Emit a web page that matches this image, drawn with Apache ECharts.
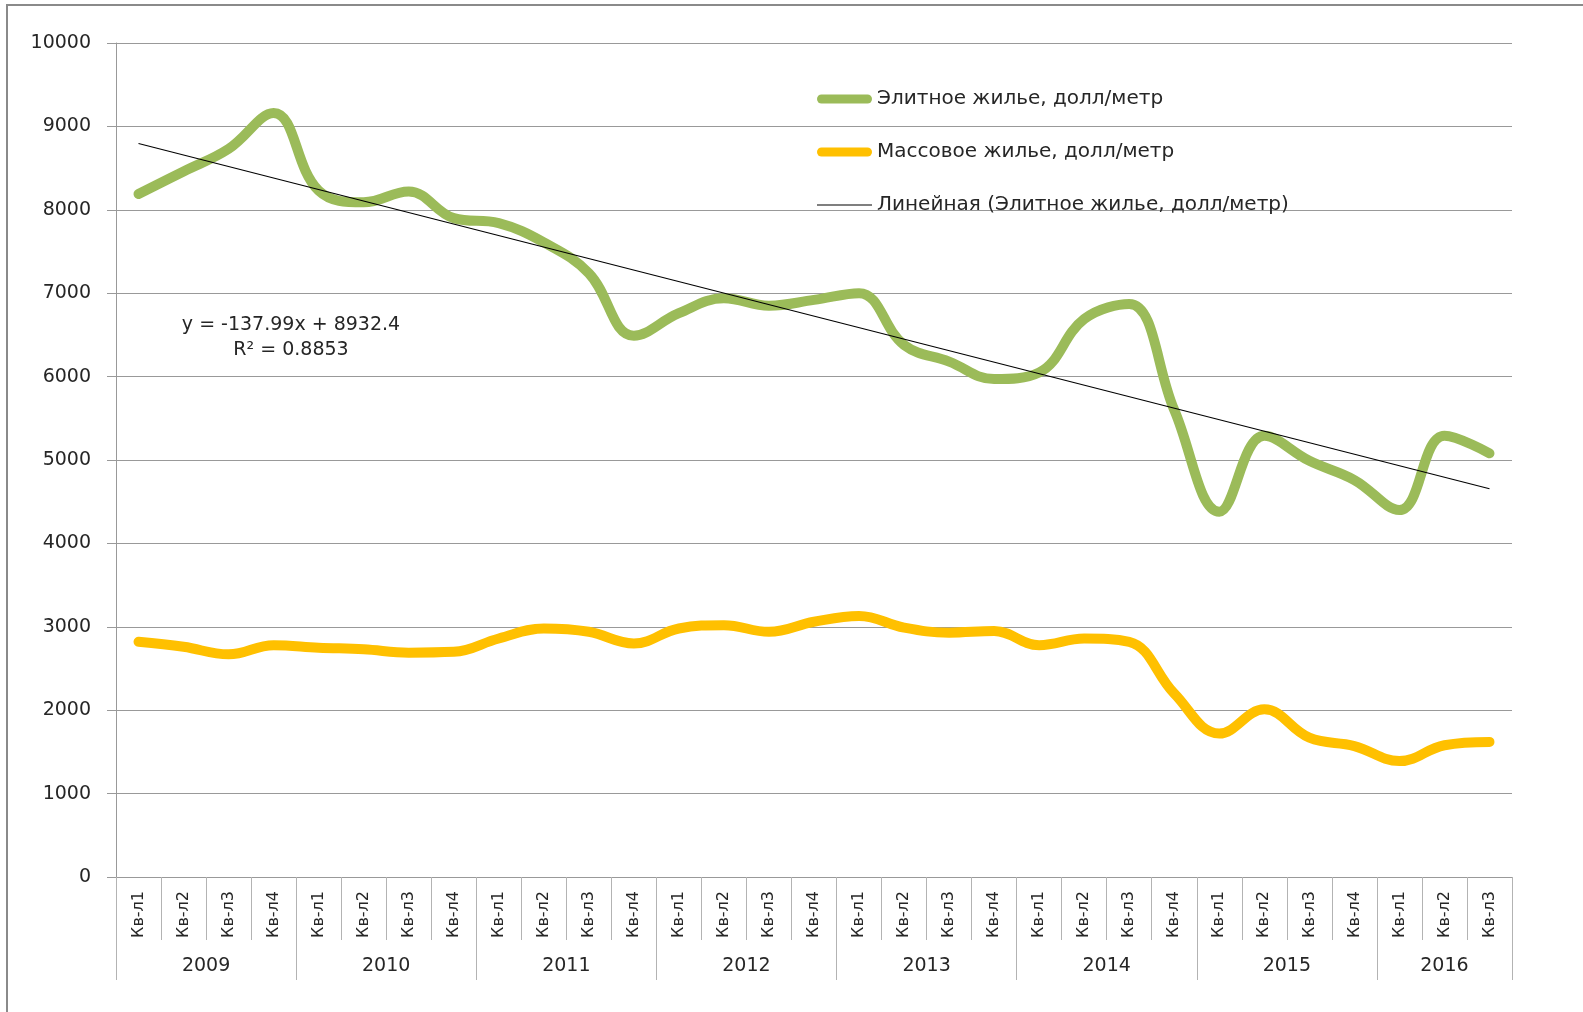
<!DOCTYPE html>
<html>
<head>
<meta charset="utf-8">
<title>Элитное и массовое жилье</title>
<script src="https://cdn.jsdelivr.net/npm/echarts@6/dist/echarts.min.js"></script>
<style>
  html, body { margin: 0; padding: 0; background: #fff; }
  #main { width: 1583px; height: 1012px; }
</style>
</head>
<body>
<div id="main"></div>
<script>
// подписи оси X
var years = ['2009', '2010', '2011', '2012', '2013', '2014', '2015', '2016'];
var quarters = ['Кв-л1', 'Кв-л2', 'Кв-л3', 'Кв-л4'];
var quartersPerYear = [4, 4, 4, 4, 4, 4, 4, 3];

var eliteName = 'Элитное жилье, долл/метр';
var massName = 'Массовое жилье, долл/метр';
var trendName = 'Линейная (Элитное жилье, долл/метр)';

// значения, долл/метр
var eliteValues = [8190, 8460, 8730, 9160, 8230, 8090, 8220, 7900, 7840, 7610, 7240, 6490,
  6760, 6940, 6850, 6920, 7000, 6380, 6180, 5970, 6050, 6690, 6870, 5600,
  4380, 5290, 4990, 4760, 4400, 5290, 5080];
var massValues = [2820, 2760, 2670, 2780, 2750, 2730, 2690, 2700, 2860, 2980, 2940, 2800,
  2980, 3020, 2940, 3060, 3130, 2990, 2930, 2950, 2780, 2860, 2820, 2200,
  1720, 2010, 1670, 1570, 1390, 1580, 1620];
// концы линии тренда y = -137.99x + 8932.4 (x = 1 и x = 31)
var trendEnds = [8794.4, 4654.7];
var trendText = ['y = -137.99x + 8932.4', 'R² = 0.8853'];

var yMin = 0, yMax = 10000, yStep = 1000;

var font = "'DejaVu Sans', sans-serif";
var textColor = '#262626';

var categories = [];
var yearBounds = [0];
var yearMids = [];
years.forEach(function (y, k) {
  for (var q = 0; q < quartersPerYear[k]; q++) {
    categories.push(y + '|' + quarters[q]);
  }
  var start = yearBounds[yearBounds.length - 1];
  yearBounds.push(start + quartersPerYear[k]);
  yearMids.push(start + quartersPerYear[k] / 2);
});

var roundIcon = 'path://M4.5,0 L50.5,0 A4.5,4.5 0 0 1 50.5,9 L4.5,9 A4.5,4.5 0 0 1 4.5,0 Z';
var thinIcon = 'path://M0,0 L50,0 L50,1.1 L0,1.1 Z';

var chart = echarts.init(document.getElementById('main'), null, { renderer: 'canvas' });

var option = {
  animation: false,
  backgroundColor: '#fff',
  grid: {
    left: 116,
    right: 71,
    top: 43,
    bottom: 135,
    outerBoundsMode: 'none'
  },
  legend: {
    orient: 'vertical',
    left: 812,
    top: 84,
    padding: 5,
    itemWidth: 55,
    itemHeight: 9,
    itemGap: 33,
    textStyle: { fontFamily: font, fontSize: 20, color: textColor },
    data: [
      { name: eliteName, icon: roundIcon },
      { name: massName, icon: roundIcon },
      { name: trendName, icon: thinIcon }
    ]
  },
  xAxis: [{
    type: 'category',
    data: categories,
    boundaryGap: true,
    axisLine: { show: true, lineStyle: { color: '#999', width: 1 } },
    axisTick: { show: true, interval: 0, length: 63, lineStyle: { color: '#b3b3b3' } },
    axisLabel: {
      interval: 0,
      rotate: 90,
      margin: 14,
      fontFamily: font,
      fontSize: 16,
      color: textColor,
      formatter: function (v) { return v.split('|')[1]; }
    },
    splitLine: { show: false }
  }, {
    type: 'value',
    position: 'bottom',
    min: 0,
    max: categories.length,
    axisLine: { show: false },
    axisTick: { show: true, customValues: yearBounds, length: 103, lineStyle: { color: '#b3b3b3' } },
    axisLabel: {
      customValues: yearMids,
      margin: 80,
      fontFamily: font,
      fontSize: 19,
      color: textColor,
      formatter: function (v) { return years[yearMids.indexOf(v)]; }
    },
    splitLine: { show: false }
  }],
  yAxis: {
    type: 'value',
    min: yMin,
    max: yMax,
    interval: yStep,
    axisLine: { show: true, lineStyle: { color: '#999' } },
    axisTick: { show: true, length: 9, lineStyle: { color: '#999' } },
    axisLabel: {
      margin: 25,
      fontFamily: font,
      fontSize: 19,
      color: textColor,
      formatter: function (v) { return String(v); }
    },
    splitLine: { show: true, lineStyle: { color: '#999', width: 1 } }
  },
  series: [{
    name: eliteName,
    type: 'line',
    data: eliteValues,
    smooth: 0.4,
    symbol: 'none',
    color: '#9BBB59',
    lineStyle: { width: 10, cap: 'round', join: 'round' }
  }, {
    name: massName,
    type: 'line',
    data: massValues,
    smooth: 0.4,
    symbol: 'none',
    color: '#FFC000',
    lineStyle: { width: 10, cap: 'round', join: 'round' }
  }, {
    name: trendName,
    type: 'line',
    data: [[0, trendEnds[0]], [categories.length - 1, trendEnds[1]]],
    symbol: 'none',
    color: '#000',
    lineStyle: { width: 1.1 }
  }],
  graphic: [{
    type: 'rect',
    silent: true,
    shape: { x: 7, y: 5, width: 1600, height: 1030 },
    style: { fill: 'none', stroke: '#8a8a8a', lineWidth: 2 }
  }, {
    type: 'text',
    silent: true,
    x: 291,
    y: 338,
    style: {
      text: trendText.join('\n'),
      align: 'center',
      verticalAlign: 'middle',
      lineHeight: 25,
      font: '19px ' + font,
      fill: textColor
    }
  }]
};

chart.setOption(option);
</script>
</body>
</html>
